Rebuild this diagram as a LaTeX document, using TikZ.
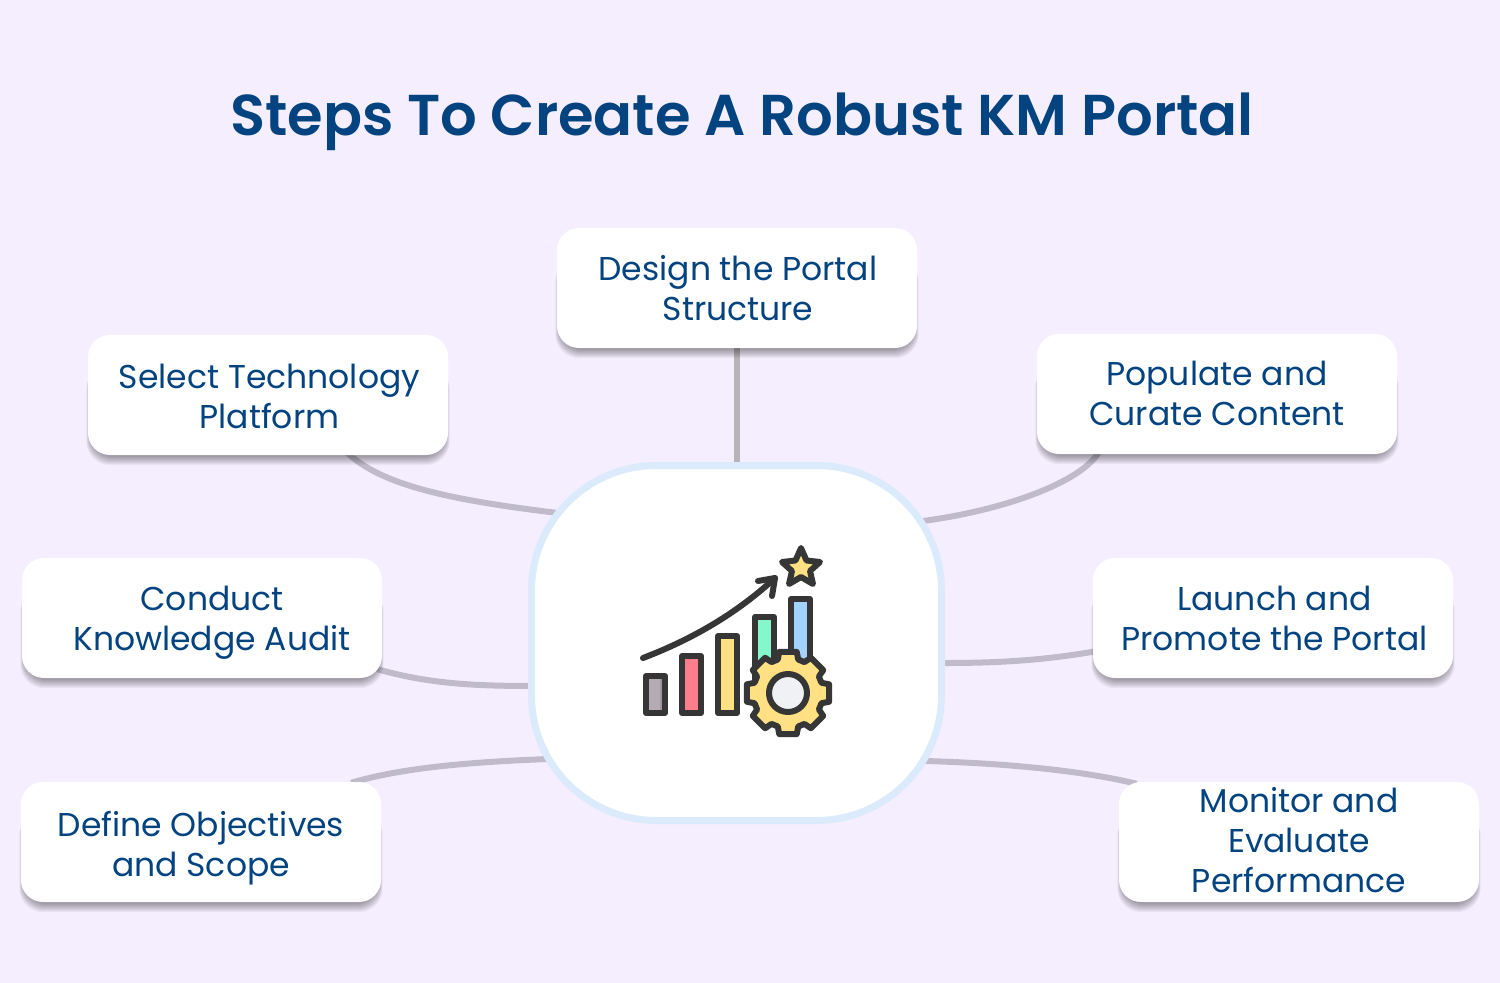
\documentclass[tikz,border=0pt]{standalone}
\usepackage{fontspec}
\setmainfont{Poppins}
\newfontfamily\titlefont{Poppins SemiBold}
\usetikzlibrary{calc}
\pgfdeclarelayer{bg}
\pgfdeclarelayer{conn}
\pgfdeclarelayer{shad}
\pgfsetlayers{bg,conn,shad,main}
\definecolor{bgc}{HTML}{F5EEFF}
\definecolor{txt}{HTML}{03437F}
\definecolor{lnk}{HTML}{C0BBCA}
\definecolor{lnkg}{HTML}{B6B4B6}
\definecolor{ring}{HTML}{DBEBFC}
\definecolor{ink}{HTML}{363636}
\definecolor{gold}{HTML}{FFE082}
\definecolor{barA}{HTML}{B5ABB5}
\definecolor{barAd}{HTML}{9F949F}
\definecolor{barB}{HTML}{FF7E8B}
\definecolor{barD}{HTML}{86F7CB}
\definecolor{barE}{HTML}{A3D3FF}
\definecolor{hole}{HTML}{F0F1F4}
\newcommand{\tl}[1]{\rule{0pt}{#1pt}}
\newcommand{\bl}{\rule[-10pt]{0pt}{10pt}}
\tikzset{
  stepbox/.style={fill=white,rounded corners=22pt,minimum width=360pt,minimum height=120pt,inner sep=0pt,align=center,text=txt,
    font=\fontsize{33}{40}\selectfont},
  link/.style={draw=lnk,line width=6pt},
  iconline/.style={draw=ink,line width=6pt,line join=round,line cap=round},
}
\begin{document}
\begin{tikzpicture}[x=1pt,y=-1pt]
\useasboundingbox (0,0) rectangle (1500,983);
\begin{pgfonlayer}{bg}
\fill[bgc] (0,0) rectangle (1500,983);
\end{pgfonlayer}
\node[text=txt,font=\titlefont\fontsize{57.6}{60}\selectfont,inner sep=0pt,anchor=base] (title) at (742,135) {Steps To Create A Robust KM Portal};
\node[stepbox] (design) at (737,288) {\hspace*{2pt}\tl{34}Design the Portal\\\hspace*{2pt}Structure\bl};
\node[stepbox] (select) at (268,395) {\hspace*{3pt}\tl{36}Select Technology\\\hspace*{3pt}Platform\bl};
\node[stepbox] (populate) at (1217,394) {\tl{32}Populate and\\Curate Content\bl};
\node[stepbox] (conduct) at (202,618) {\hspace*{20pt}\tl{34}Conduct\\\hspace*{20pt}Knowledge Audit\bl};
\node[stepbox] (launch) at (1273,618) {\hspace*{3pt}\tl{34}Launch and\\\hspace*{3pt}Promote the Portal\bl};
\node[stepbox] (define) at (201,842) {\tl{38}Define Objectives\\and Scope\bl};
\node[stepbox] (monitor) at (1299,842) {\tl{30}Monitor and\\Evaluate\\Performance\bl};
\node[draw=ring,fill=white,line width=7pt,rounded corners=125pt,minimum width=410pt,minimum height=355pt,inner sep=0pt] (hub) at (736.5,643) {};
\begin{pgfonlayer}{shad}
\foreach \n in {design,select,populate,conduct,launch,define,monitor}
  \foreach \i in {1,...,10}
    \fill[black,opacity=.045,rounded corners=24pt]
      ($(\n.north west)+({(7-\i)*.5},30)$) rectangle ($(\n.south east)+({-(7-\i)*.5},\i)$);
\end{pgfonlayer}
\begin{pgfonlayer}{conn}
\draw[link,draw=lnkg] (design.south) -- (hub.north -| design.south);
\draw[link] ($(select.south west)+(258,-4)$) .. controls +(34,34) and (450,500) .. ($(hub.west)+(30,-130)$);
\draw[link] ($(populate.south west)+(63,-4)$) .. controls +(-16,32) and (1000,512) .. ($(hub.east)+(-30,-121)$);
\draw[link] ($(conduct.south east)+(-5,-9)$) .. controls +(50,14) and (470,686) .. ($(hub.west)+(5,43)$);
\draw[link] ($(define.north east)+(-30,1)$) .. controls +(50,-15) and (470,762) .. ($(hub.west)+(20,116)$);
\draw[link] (hub.east |- 0,663) .. controls (1010,663) and (1050,659) .. ($(launch.west)+(5,33)$);
\draw[link] ($(hub.east)+(-20,118)$) .. controls (1000,763) and (1080,770) .. ($(monitor.north west)+(18,2)$);
\end{pgfonlayer}
% icon
\path[iconline,fill=barA] (646,676) rectangle (665,713);
\fill[barAd] (660,679) rectangle (662,710);
\path[iconline,fill=barB] (682,656) rectangle (701,713);
\path[iconline,fill=gold] (718,636) rectangle (737,713);
\path[iconline,fill=barD] (755,617) rectangle (774,695);
\path[iconline,fill=barE] (791,599) rectangle (810,695);
\draw[iconline] (643,658) .. controls (690,640) and (735,615) .. (775,578);
\draw[iconline] (758,581) -- (775,578) -- (772,596);
\path[iconline,fill=gold] (801,548) -- (806.5,560.5) -- (820,562) -- (810,571) -- (813,584) -- (801,577) -- (789,584) -- (792,571) -- (782,562) -- (795.5,560.5) -- cycle;
\path[iconline,fill=gold] ($(788,693)+(-12:42)$)
  \foreach \a in {0,45,...,315}{
    -- ($(788,693)+({\a-12}:42)$) -- ($(788,693)+({\a+12}:42)$) -- ($(788,693)+({\a+17}:35)$) -- ($(788,693)+({\a+28}:35)$)
  } -- cycle;
\path[iconline,fill=hole] (788,693) circle (19);
\end{tikzpicture}
\end{document}
